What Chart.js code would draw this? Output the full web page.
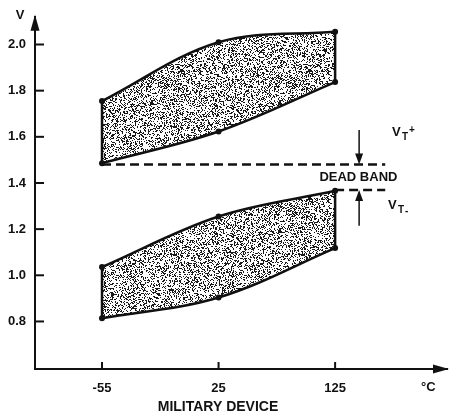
<!DOCTYPE html>
<html>
<head>
<meta charset="utf-8">
<script src="https://cdn.jsdelivr.net/npm/chart.js@4"></script>
<style>
  html, body { margin: 0; padding: 0; background: #fff; }
  #wrap { width: 451px; height: 418px; position: relative; }
</style>
</head>
<body>
<div id="wrap"><canvas id="chart"></canvas></div>
<script>
'use strict';
// temperatures are evenly spaced in the original, so they sit on index positions
const tempLabels = ['-55', '25', '125'];
const tempPos = [0, 1, 2];
const voltTicks = [0.8, 1.0, 1.2, 1.4, 1.6, 1.8, 2.0];

// V_T+ band (upper) and V_T- band (lower)
const upperTop = [1.755, 2.01, 2.055];
const upperBottom = [1.486, 1.623, 1.837];
const lowerTop = [1.036, 1.255, 1.366];
const lowerBottom = [0.814, 0.904, 1.118];

const vtPlusMin = 1.48;
const vtMinusMax = 1.37;
const dashEnd = 2.43;

const FONT = "'Liberation Sans', Arial, sans-serif";

function pts(ys) {
  return ys.map((y, i) => ({ x: tempPos[i], y: y }));
}

function edge(bottom, top, i) {
  return [{ x: tempPos[i], y: bottom[i] }, { x: tempPos[i], y: top[i] }];
}

// stipple texture from a small seeded generator so it is the same every run
function makeStipple() {
  const size = 128;
  const c = document.createElement('canvas');
  c.width = size; c.height = size;
  const g = c.getContext('2d');
  const img = g.createImageData(size, size);
  let seed = 12345;
  function next() {
    seed = (seed + 0x6D2B79F5) | 0;
    let t = Math.imul(seed ^ (seed >>> 15), 1 | seed);
    t = (t + Math.imul(t ^ (t >>> 7), 61 | t)) ^ t;
    return ((t ^ (t >>> 14)) >>> 0) / 4294967296;
  }
  for (let k = 0; k < size * size * 4; k += 4) {
    const dark = next() < 0.33;
    const c0 = dark ? 25 : 255;
    img.data[k] = c0; img.data[k + 1] = c0; img.data[k + 2] = c0; img.data[k + 3] = 255;
  }
  g.putImageData(img, 0, 0);
  return g.createPattern(c, 'repeat');
}

const stipple = makeStipple();

function band(data, fill) {
  return {
    data: data,
    borderColor: '#111',
    borderWidth: 2.5,
    backgroundColor: stipple,
    fill: fill,
    tension: 0.35,
    pointRadius: 3,
    pointBackgroundColor: '#111',
    pointBorderColor: '#111',
    pointBorderWidth: 0
  };
}

function plainLine(data, dash) {
  return {
    data: data,
    borderColor: '#111',
    borderWidth: 2.5,
    borderDash: dash || [],
    fill: false,
    tension: 0,
    pointRadius: 0
  };
}

function arrow(ctx, x, y1, y2) {
  // shaft from y1 to tip y2
  const dir = y2 > y1 ? 1 : -1;
  ctx.beginPath();
  ctx.moveTo(x, y1);
  ctx.lineTo(x, y2 - dir * 6);
  ctx.stroke();
  ctx.beginPath();
  ctx.moveTo(x, y2);
  ctx.lineTo(x - 4, y2 - dir * 11);
  ctx.lineTo(x + 4, y2 - dir * 11);
  ctx.closePath();
  ctx.fill();
}

const decor = {
  id: 'decor',
  afterDraw(chart) {
    const ctx = chart.ctx;
    const xs = chart.scales.x;
    const ys = chart.scales.y;
    const area = chart.chartArea;
    ctx.save();
    ctx.strokeStyle = '#111';
    ctx.fillStyle = '#111';
    ctx.lineWidth = 2;

    // inside ticks
    voltTicks.forEach(v => {
      const py = ys.getPixelForValue(v);
      ctx.beginPath();
      ctx.moveTo(area.left, py);
      ctx.lineTo(area.left + 9, py);
      ctx.stroke();
    });
    tempPos.forEach(p => {
      const px = xs.getPixelForValue(p);
      ctx.beginPath();
      ctx.moveTo(px, area.bottom);
      ctx.lineTo(px, area.bottom - 7);
      ctx.stroke();
    });

    // axis arrow heads
    ctx.beginPath();
    ctx.moveTo(area.left, area.top - 2);
    ctx.lineTo(area.left - 4.5, area.top + 14);
    ctx.lineTo(area.left + 4.5, area.top + 14);
    ctx.closePath();
    ctx.fill();
    ctx.beginPath();
    ctx.moveTo(area.right + 2, area.bottom);
    ctx.lineTo(area.right - 14, area.bottom - 4.5);
    ctx.lineTo(area.right - 14, area.bottom + 4.5);
    ctx.closePath();
    ctx.fill();

    // dead band arrows
    ctx.lineWidth = 1.5;
    const ax = xs.getPixelForValue(2.206);
    arrow(ctx, ax, ys.getPixelForValue(1.63), ys.getPixelForValue(vtPlusMin));
    arrow(ctx, ax, ys.getPixelForValue(1.215), ys.getPixelForValue(vtMinusMax));

    // texts
    ctx.textBaseline = 'middle';
    ctx.textAlign = 'center';
    ctx.font = 'bold 13px ' + FONT;
    ctx.fillText('V', 20, 15);
    ctx.fillText('DEAD BAND', xs.getPixelForValue(2.2), ys.getPixelForValue(1.425));
    ctx.font = 'bold 14px ' + FONT;
    ctx.fillText('MILITARY DEVICE', 218, 407);
    ctx.textAlign = 'left';
    ctx.font = 'bold 13px ' + FONT;
    ctx.fillText('°C', 421, 387);

    ctx.font = 'bold 13px ' + FONT;
    ctx.fillText('V', 392, 132);
    ctx.font = 'bold 10px ' + FONT;
    ctx.fillText('T', 402, 137);
    ctx.fillText('+', 409, 130);
    ctx.font = 'bold 13px ' + FONT;
    ctx.fillText('V', 388, 205);
    ctx.font = 'bold 10px ' + FONT;
    ctx.fillText('T', 398, 210);
    ctx.fillText('-', 405, 211);
    ctx.restore();
  }
};

new Chart(document.getElementById('chart'), {
  type: 'line',
  data: {
    datasets: [
      band(pts(upperTop), '+1'),
      band(pts(upperBottom), false),
      band(pts(lowerTop), '+1'),
      band(pts(lowerBottom), false),
      plainLine(edge(upperBottom, upperTop, 0)),
      plainLine(edge(upperBottom, upperTop, 2)),
      plainLine(edge(lowerBottom, lowerTop, 0)),
      plainLine(edge(lowerBottom, lowerTop, 2)),
      plainLine([{ x: tempPos[0], y: vtPlusMin }, { x: dashEnd, y: vtPlusMin }], [9, 5]),
      plainLine([{ x: tempPos[2], y: vtMinusMax }, { x: dashEnd, y: vtMinusMax }], [9, 5])
    ]
  },
  options: {
    responsive: true,
    maintainAspectRatio: false,
    animation: false,
    layout: { padding: { top: 12, right: 4, left: 0, bottom: 0 } },
    plugins: {
      legend: { display: false },
      tooltip: { enabled: false },
      filler: { drawTime: 'beforeDatasetsDraw' }
    },
    scales: {
      x: {
        type: 'linear',
        min: -0.575,
        max: 2.96,
        afterFit(scale) { scale.height = 49; },
        afterBuildTicks(scale) { scale.ticks = tempPos.map(v => ({ value: v })); },
        grid: { display: false, drawTicks: false },
        border: { display: true, color: '#111', width: 2 },
        ticks: {
          padding: 12,
          color: '#111',
          font: { family: FONT, size: 13, weight: 'bold' },
          callback: (v) => tempLabels[tempPos.indexOf(v)]
        }
      },
      y: {
        type: 'linear',
        min: 0.594,
        max: 2.12,
        afterFit(scale) { scale.width = 35; },
        afterBuildTicks(scale) { scale.ticks = voltTicks.map(v => ({ value: v })); },
        grid: { display: false, drawTicks: false },
        border: { display: true, color: '#111', width: 2 },
        ticks: {
          padding: 9,
          color: '#111',
          font: { family: FONT, size: 13, weight: 'bold' },
          callback: (v) => v.toFixed(1)
        }
      }
    }
  },
  plugins: [decor]
});
</script>
</body>
</html>
